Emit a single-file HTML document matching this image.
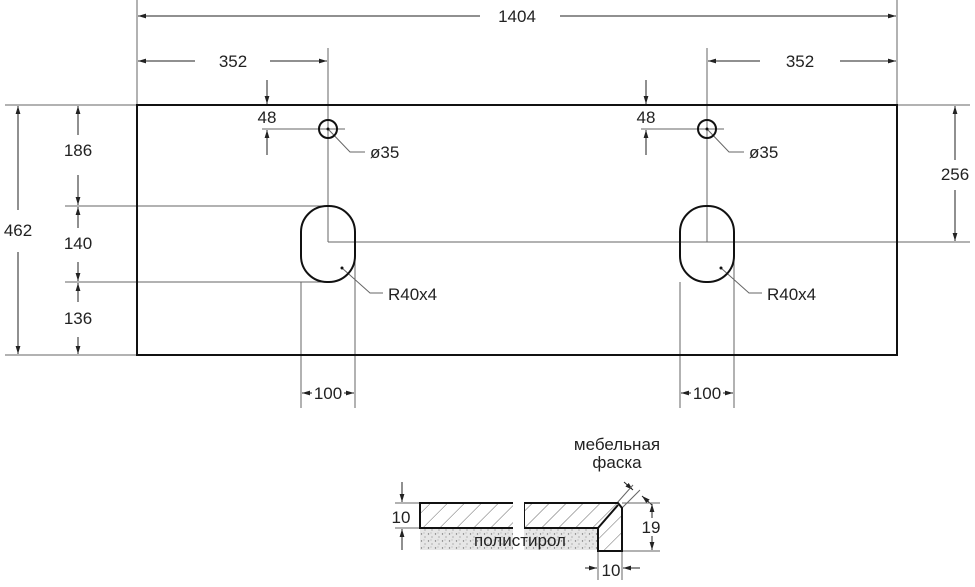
<!DOCTYPE html>
<html><head><meta charset="utf-8"><style>
html,body{margin:0;padding:0;background:#fff}
svg{display:block}
text{font-family:"Liberation Sans","DejaVu Sans",sans-serif;font-size:17px;fill:#222}
</style></head><body>
<svg width="975" height="587" viewBox="0 0 975 587" xmlns="http://www.w3.org/2000/svg">
<defs>
<marker id="a" viewBox="0 0 10 6" refX="10" refY="3" markerWidth="8" markerHeight="5" orient="auto-start-reverse" markerUnits="userSpaceOnUse"><path d="M0,0 L10,3 L0,6z" fill="#222"/></marker>
<pattern id="h" width="12" height="12" patternUnits="userSpaceOnUse" patternTransform="rotate(45)"><line x1="0" y1="0" x2="0" y2="12" stroke="#444" stroke-width="0.8"/></pattern>
<pattern id="d" width="7" height="7" patternUnits="userSpaceOnUse"><rect width="7" height="7" fill="#e6e6e6"/><circle cx="1.5" cy="2" r="0.7" fill="#777"/><circle cx="5" cy="5" r="0.6" fill="#888"/><circle cx="4" cy="1" r="0.5" fill="#999"/></pattern>
</defs>
<g stroke="#666" stroke-width="1" fill="none">
<line x1="137" y1="0" x2="137" y2="105"/><line x1="897" y1="0" x2="897" y2="105"/>
<line x1="328" y1="48" x2="328" y2="242"/><line x1="707" y1="48" x2="707" y2="242"/>
<line x1="328" y1="242" x2="970" y2="242"/><line x1="897" y1="105" x2="970" y2="105"/>
<line x1="5" y1="105" x2="137" y2="105"/><line x1="5" y1="355" x2="137" y2="355"/>
<line x1="65" y1="206" x2="328" y2="206"/><line x1="65" y1="282" x2="328" y2="282"/>
<line x1="301" y1="282" x2="301" y2="408"/><line x1="355" y1="260" x2="355" y2="408"/>
<line x1="680" y1="282" x2="680" y2="408"/><line x1="734" y1="260" x2="734" y2="408"/>
<line x1="262" y1="129" x2="345" y2="129"/><line x1="641" y1="129" x2="724" y2="129"/>
<polyline points="328,129 350,152 365,152"/><polyline points="707,129 729,152 744,152"/>
<polyline points="342,268 370,293 383,293"/><polyline points="721,268 749,293 762,293"/>
</g>
<g stroke="#222" stroke-width="1" fill="none" marker-end="url(#a)">
<line x1="480" y1="16" x2="138" y2="16"/><line x1="560" y1="16" x2="896" y2="16"/>
<line x1="195" y1="61" x2="138" y2="61"/><line x1="270" y1="61" x2="327" y2="61"/>
<line x1="760" y1="61" x2="708" y2="61"/><line x1="840" y1="61" x2="896" y2="61"/>
<line x1="267" y1="80" x2="267" y2="104"/><line x1="267" y1="155" x2="267" y2="130"/>
<line x1="646" y1="80" x2="646" y2="104"/><line x1="646" y1="155" x2="646" y2="130"/>
<line x1="955" y1="160" x2="955" y2="106"/><line x1="955" y1="190" x2="955" y2="241"/>
<line x1="18" y1="210" x2="18" y2="106"/><line x1="18" y1="252" x2="18" y2="354"/>
<line x1="78" y1="135" x2="78" y2="106"/><line x1="78" y1="175" x2="78" y2="205"/>
<line x1="78" y1="228" x2="78" y2="207"/><line x1="78" y1="262" x2="78" y2="281"/>
<line x1="78" y1="302" x2="78" y2="283"/><line x1="78" y1="337" x2="78" y2="354"/>
<line x1="312" y1="393" x2="302" y2="393"/><line x1="344" y1="393" x2="354" y2="393"/>
<line x1="691" y1="393" x2="681" y2="393"/><line x1="723" y1="393" x2="733" y2="393"/>
<line x1="402" y1="482" x2="402" y2="502"/><line x1="402" y1="550" x2="402" y2="529"/>
<line x1="652" y1="518" x2="652" y2="504"/><line x1="652" y1="536" x2="652" y2="550"/>
<line x1="585" y1="568" x2="597" y2="568"/><line x1="640" y1="568" x2="623" y2="568"/>
<line x1="624" y1="482" x2="633" y2="490"/><line x1="652" y1="505" x2="642" y2="496"/>
</g>
<rect x="137" y="105" width="760" height="250" fill="none" stroke="#111" stroke-width="2"/>
<g fill="none" stroke="#111" stroke-width="2">
<circle cx="328" cy="129" r="9"/><circle cx="707" cy="129" r="9"/>
<rect x="301" y="206" width="54" height="76" rx="26" ry="26"/>
<rect x="680" y="206" width="54" height="76" rx="26" ry="26"/>
</g>
<circle cx="328" cy="129" r="1.5" fill="#111"/><circle cx="707" cy="129" r="1.5" fill="#111"/>
<circle cx="342" cy="268" r="1.5" fill="#111"/><circle cx="721" cy="268" r="1.5" fill="#111"/>
<g text-anchor="middle">
<text x="517" y="22">1404</text>
<text x="233" y="67">352</text><text x="800" y="67">352</text>
<text x="267" y="123">48</text><text x="646" y="123">48</text>
<text x="955" y="180">256</text>
<text x="18" y="236">462</text>
<text x="78" y="156">186</text><text x="78" y="249">140</text><text x="78" y="324">136</text>
<text x="328" y="399">100</text><text x="707" y="399">100</text>
<text x="401" y="523">10</text><text x="651" y="533">19</text><text x="611" y="576">10</text>
<text x="617" y="450">мебельная</text><text x="617" y="468">фаска</text>
</g>
<text x="370" y="158">ø35</text><text x="749" y="158">ø35</text>
<text x="388" y="300">R40x4</text><text x="767" y="300">R40x4</text>
<g stroke="#666" stroke-width="1" fill="none">
<line x1="395" y1="503" x2="420" y2="503"/><line x1="395" y1="528" x2="420" y2="528"/>
<line x1="622" y1="503" x2="660" y2="503"/><line x1="622" y1="551" x2="660" y2="551"/>
<line x1="598" y1="551" x2="598" y2="580"/><line x1="622" y1="551" x2="622" y2="580"/>
<line x1="617" y1="503" x2="633" y2="485"/><line x1="622" y1="508" x2="640" y2="490"/>
</g>
<rect x="420" y="529" width="93" height="21" fill="url(#d)"/>
<rect x="524" y="529" width="74" height="21" fill="url(#d)"/>
<rect x="420" y="503" width="95" height="25" fill="url(#h)" stroke="#111" stroke-width="2"/>
<path d="M524,528 L524,503 L618,503 L622,508 L622,551 L598,551 L598,528 Z" fill="url(#h)" stroke="#111" stroke-width="2"/>
<line x1="598" y1="528" x2="618" y2="505" stroke="#111" stroke-width="2"/>
<rect x="513" y="495" width="11" height="60" fill="#fff"/>
<text x="520" y="546" text-anchor="middle" font-size="16">полистирол</text>
</svg>
</body></html>
